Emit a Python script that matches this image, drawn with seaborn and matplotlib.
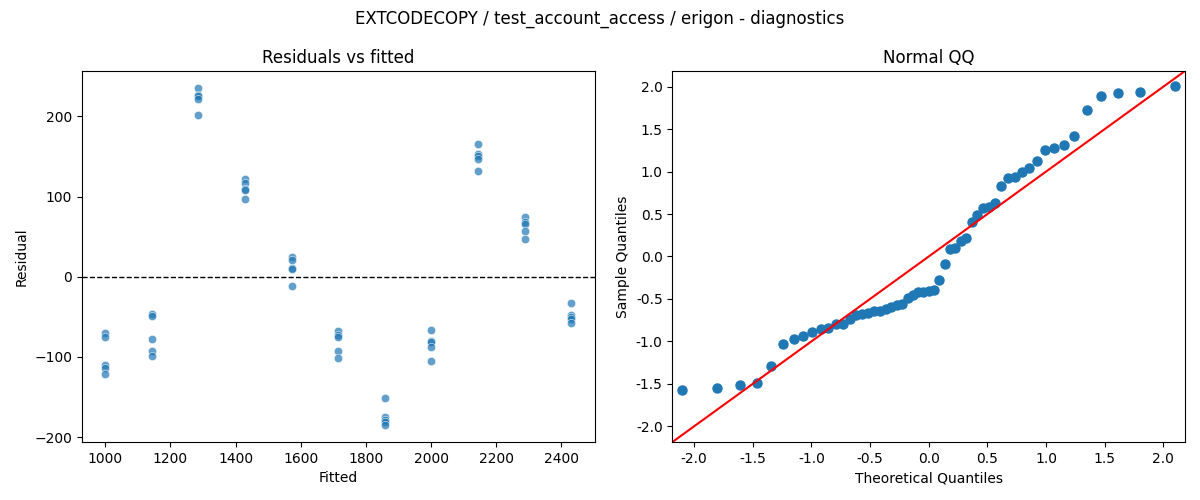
import numpy as np
import pandas as pd
import matplotlib
matplotlib.use("Agg")
import matplotlib.pyplot as plt
from matplotlib.ticker import MultipleLocator, FormatStrFormatter
import seaborn as sns
from statistics import NormalDist

# Fitted value of each group (x positions of the columns of points)
fitted_levels = [1000, 1143, 1286, 1429, 1572, 1715, 1858, 2001, 2144, 2287, 2430]

# Residuals, five per fitted level
residuals_by_level = [
    [-69.7, -75.2, -110.5, -113.9, -121.7],
    [-46.6, -49.4, -78.0, -93.0, -98.9],
    [235.7, 227.0, 225.8, 221.2, 201.7],
    [122.0, 117.0, 109.5, 108.3, 97.1],
    [24.9, 21.2, 11.2, 10.0, -11.2],
    [-67.7, -72.2, -75.2, -93.0, -100.9],
    [-151.0, -175.2, -178.0, -181.4, -185.0],
    [-66.2, -79.5, -80.7, -87.0, -105.0],
    [166.0, 153.3, 150.3, 147.5, 132.5],
    [74.2, 68.8, 66.3, 57.6, 47.7],
    [-32.7, -47.6, -49.7, -52.9, -57.9],
]

suptitle = "EXTCODECOPY / test_account_access / erigon - diagnostics"

rows = []
for f, rs in zip(fitted_levels, residuals_by_level):
    for r in rs:
        rows.append({"Fitted": f, "Residual": r})
df = pd.DataFrame(rows)

fig, (ax1, ax2) = plt.subplots(1, 2, figsize=(12, 5), dpi=100)
fig.subplots_adjust(left=0.0683, right=0.9875, top=0.858, bottom=0.116, wspace=0.152)

sns.scatterplot(data=df, x="Fitted", y="Residual", ax=ax1, alpha=0.7)
ax1.axhline(0, color="black", linestyle="--", linewidth=1)
ax1.set_title("Residuals vs fitted")
ax1.set_xlabel("Fitted")
ax1.set_ylabel("Residual")

# Normal QQ of standardized residuals
resid = df["Residual"].to_numpy()
std_resid = np.sort((resid - resid.mean()) / resid.std())
n = len(std_resid)
nd = NormalDist()
theo = np.array([nd.inv_cdf(i / (n + 1)) for i in range(1, n + 1)])

ax2.margins(0.02)
ax2.plot(theo, std_resid, "o", color="C0", markersize=6.5)
xl = ax2.get_xlim()
yl = ax2.get_ylim()
lo = min(xl[0], yl[0])
hi = max(xl[1], yl[1])
ax2.plot([lo, hi], [lo, hi], "r-", linewidth=1.5)
ax2.set_xlim(lo, hi)
ax2.set_ylim(lo, hi)
for axis in (ax2.xaxis, ax2.yaxis):
    axis.set_major_locator(MultipleLocator(0.5))
    axis.set_major_formatter(FormatStrFormatter("%.1f"))
ax2.set_title("Normal QQ")
ax2.set_xlabel("Theoretical Quantiles")
ax2.set_ylabel("Sample Quantiles")

fig.suptitle(suptitle)
fig.savefig("out.png", dpi=100)
